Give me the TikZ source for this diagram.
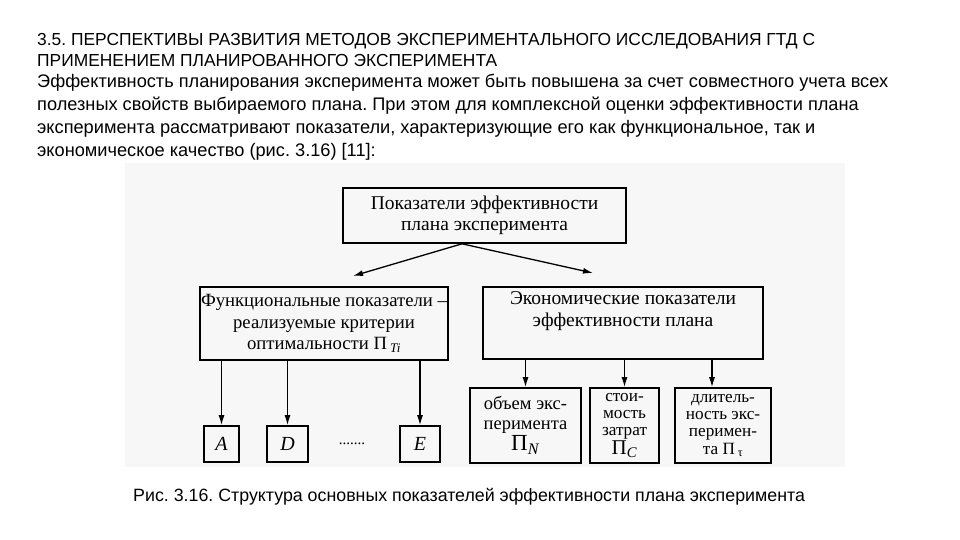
\documentclass[tikz,border=0pt]{standalone}
\usepackage{fontspec}
\setmainfont{Liberation Serif}
\newfontfamily\arialfont{Liberation Sans}
\usetikzlibrary{arrows.meta, positioning}
\frenchspacing

\begin{document}
\begin{tikzpicture}[x=1pt, y=-1pt,
                    box/.style={draw, line width=1.6pt, inner sep=0pt, align=center, font=\fontsize{19.5}{21.5}\selectfont},
                    small/.style={box, font=\fontsize{17.2}{17.2}\selectfont},
                    letter/.style={box, minimum height=36pt, font=\fontsize{20}{20}\selectfont\itshape},
                    arrow/.style={-{Latex[length=10pt,width=6pt]}, line width=1.3pt},
                    txt/.style={anchor=base west, inner sep=0pt, font=\arialfont\fontsize{18.2}{20}\selectfont}
                ]
                \useasboundingbox (0,0) rectangle (960,540);
                % scanned figure
                \fill[black!3] (125,163) rectangle (845,467);

                \node[txt, font=\arialfont\fontsize{17.4}{20}\selectfont] (head1) at (37,46) {3.5. ПЕРСПЕКТИВЫ РАЗВИТИЯ МЕТОДОВ ЭКСПЕРИМЕНТАЛЬНОГО ИССЛЕДОВАНИЯ ГТД С};
                \node[txt, font=\arialfont\fontsize{17.4}{20}\selectfont] (head2) at (37,67) {ПРИМЕНЕНИЕМ ПЛАНИРОВАННОГО ЭКСПЕРИМЕНТА};
                \node[txt] (par1) at (37,88) {Эффективность планирования эксперимента может быть повышена за счет совместного учета всех};
                \node[txt] (par2) at (37,111) {полезных свойств выбираемого плана. При этом для комплексной оценки эффективности плана};
                \node[txt] (par3) at (37,134) {эксперимента рассматривают показатели, характеризующие его как функциональное, так и};
                \node[txt] (par4) at (37,157) {экономическое качество (рис. 3.16) [11]:};

                \node[box, minimum width=283pt, minimum height=55pt] (total) at (484.5,215.5) {Показатели эффективности\\плана эксперимента};
                \node[box, minimum width=248pt, minimum height=73pt, font=\fontsize{18.7}{21.5}\selectfont] (func) at (324,323.5) {Функциональные показатели --\\реализуемые критерии\\оптимальности Π\,\textsubscript{\textit{Ti}}};
                \node[box, minimum width=280pt, minimum height=72pt] (econ) at (623,323) {Экономические показатели\\эффективности плана\\\strut};

                \node[letter, minimum width=35pt] (critA) at (221.5,444) {A};
                \node[letter, minimum width=41pt] (critD) at (287.5,444) {D};
                \node[letter, minimum width=40pt] (critE) at (420,444) {E};
                \node[font=\fontsize{15}{15}\selectfont, inner sep=0pt] (dots) at (352,444) {.......};

                \node[small, minimum width=111pt, minimum height=75pt, font=\fontsize{18.5}{20}\selectfont] (volume) at (525.5,425.5) {объем экс-\\перимента\\[1pt]{\fontsize{23}{23}\selectfont Π\textsubscript{\textit{N}}}};
                \node[small, minimum width=69pt, minimum height=75pt] (cost) at (624.5,425.5) {стои-\\мость\\затрат\\[1pt]{\fontsize{21}{21}\selectfont Π\textsubscript{\textit{C}}}};
                \node[small, minimum width=96pt, minimum height=75pt] (length) at (723,425.5) {длитель-\\ность экс-\\перимен-\\та Π\,\textsubscript{τ}};

                \coordinate (fork) at ([xshift=-22.5pt]total.south);
                \coordinate (funcin) at (353,276);
                \coordinate (econin) at (593,273);
                \draw[arrow] (fork) -- (funcin);
                \draw[arrow] (fork) -- (econin);

                \draw[arrow] (func.south -| critA) -- (critA);
                \draw[arrow] (func.south -| critD) -- (critD);
                \draw[arrow] (func.south -| critE) -- (critE);
                \draw[arrow] (econ.south -| volume) -- (volume);
                \draw[arrow] (econ.south -| cost) -- (cost);
                \draw[arrow] ([xshift=-11pt]econ.south -| length) -- ([xshift=-11pt]length.north);

                \node[txt, font=\arialfont\fontsize{17.8}{20}\selectfont] (caption) at (133,501) {Рис. 3.16. Структура основных показателей эффективности плана эксперимента};
                \end{tikzpicture}
\end{document}
